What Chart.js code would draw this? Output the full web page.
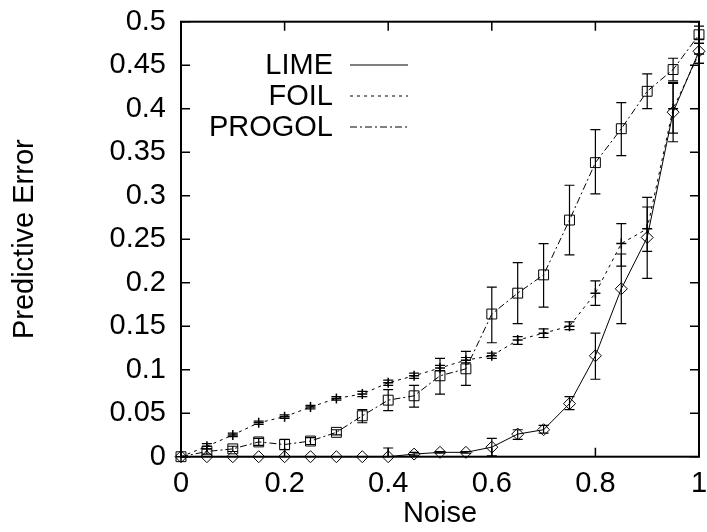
<!DOCTYPE html>
<html>
<head>
<meta charset="utf-8">
<script src="https://cdn.jsdelivr.net/npm/chart.js@4/dist/chart.umd.min.js"></script>
<style>
html,body{margin:0;padding:0;background:#fff;}
#wrap{width:707px;height:532px;}
</style>
</head>
<body>
<div id="wrap"><canvas id="c" width="707" height="532"></canvas></div>
<script>
// ---- data ----
const noise = [0, 0.05, 0.1, 0.15, 0.2, 0.25, 0.3, 0.35, 0.4, 0.45, 0.5, 0.55, 0.6, 0.65, 0.7, 0.75, 0.8, 0.85, 0.9, 0.95, 1];

const limeValues = [0, 0, 0, 0, 0, 0, 0, 0, 0, 0.003, 0.005, 0.005, 0.011, 0.026, 0.031, 0.061, 0.116, 0.193, 0.252, 0.396, 0.466];
const limeLow    = [0, 0, 0, 0, 0, 0, 0, 0, 0, 0.001, 0.004, 0.004, 0.001, 0.020, 0.027, 0.054, 0.089, 0.153, 0.205, 0.362, 0.452];
const limeHigh   = [0, 0, 0, 0, 0, 0, 0, 0, 0.010, 0.005, 0.006, 0.006, 0.021, 0.031, 0.036, 0.069, 0.142, 0.233, 0.298, 0.430, 0.480];

const foilValues = [0, 0.012, 0.025, 0.039, 0.046, 0.057, 0.067, 0.072, 0.085, 0.093, 0.102, 0.111, 0.116, 0.134, 0.142, 0.150, 0.188, 0.245, 0.262, 0.400, 0.463];
const foilLow    = [0, 0.009, 0.023, 0.037, 0.044, 0.055, 0.065, 0.069, 0.082, 0.090, 0.099, 0.108, 0.113, 0.129, 0.137, 0.146, 0.174, 0.219, 0.236, 0.372, 0.452];
const foilHigh   = [0, 0.015, 0.027, 0.041, 0.048, 0.059, 0.069, 0.075, 0.088, 0.096, 0.105, 0.114, 0.119, 0.138, 0.147, 0.155, 0.202, 0.268, 0.287, 0.429, 0.475];

const progolValues = [0, 0.006, 0.009, 0.017, 0.014, 0.018, 0.028, 0.047, 0.065, 0.070, 0.093, 0.101, 0.164, 0.188, 0.209, 0.272, 0.338, 0.377, 0.420, 0.445, 0.485];
const progolLow    = [0, 0.003, 0.006, 0.013, 0.008, 0.014, 0.025, 0.039, 0.053, 0.057, 0.072, 0.082, 0.131, 0.153, 0.172, 0.232, 0.302, 0.346, 0.400, 0.432, 0.475];
const progolHigh   = [0, 0.009, 0.012, 0.021, 0.020, 0.022, 0.031, 0.054, 0.077, 0.082, 0.113, 0.121, 0.195, 0.223, 0.245, 0.312, 0.376, 0.407, 0.440, 0.458, 0.495];

const seriesNames = ['LIME', 'FOIL', 'PROGOL'];
const xTickValues = [0, 0.2, 0.4, 0.6, 0.8, 1];
const yTickValues = [0, 0.05, 0.1, 0.15, 0.2, 0.25, 0.3, 0.35, 0.4, 0.45, 0.5];
const xTitle = 'Noise';
const yTitle = 'Predictive Error';

// ---- styling ----
const FONT = 'Liberation Sans, Arial, Helvetica, sans-serif';
const FS = 29;

function pts(vals, lo, hi) {
  return noise.map((x, i) => ({x: x, y: vals[i], lo: lo[i], hi: hi[i]}));
}

const datasets = [
  {label: seriesNames[0], data: pts(limeValues, limeLow, limeHigh), borderColor: '#000', borderWidth: 1,
   borderDash: [], pointStyle: 'rectRot', pointRadius: 6, pointBorderWidth: 1,
   pointBackgroundColor: 'rgba(0,0,0,0)', pointBorderColor: '#000', clip: false, tension: 0},
  {label: seriesNames[1], data: pts(foilValues, foilLow, foilHigh), borderColor: '#000', borderWidth: 1,
   borderDash: [3, 4], pointStyle: 'cross', pointRadius: 5, pointBorderWidth: 1.5,
   pointBackgroundColor: 'rgba(0,0,0,0)', pointBorderColor: '#000', clip: false, tension: 0},
  {label: seriesNames[2], data: pts(progolValues, progolLow, progolHigh), borderColor: '#000', borderWidth: 1,
   borderDash: [7, 3, 2, 3], pointStyle: 'rect', pointRadius: 7, pointBorderWidth: 1,
   pointBackgroundColor: 'rgba(0,0,0,0)', pointBorderColor: '#000', clip: false, tension: 0}
];

const framePlugin = {
  id: 'frame',
  afterDatasetsDraw(chart) {
    const ctx = chart.ctx;
    const xs = chart.scales.x, ys = chart.scales.y;
    const a = chart.chartArea;
    ctx.save();
    // error bars
    ctx.strokeStyle = '#000';
    ctx.lineWidth = 1.2;
    ctx.setLineDash([]);
    chart.data.datasets.forEach(ds => {
      ds.data.forEach(p => {
        if (p.hi - p.lo <= 0) return;
        const px = xs.getPixelForValue(p.x);
        const y1 = ys.getPixelForValue(Math.max(p.lo, 0));
        const y2 = ys.getPixelForValue(p.hi);
        ctx.beginPath();
        ctx.moveTo(px, y1); ctx.lineTo(px, y2);
        const cw = 5;
        if (p.lo > 0) { ctx.moveTo(px - cw, y1); ctx.lineTo(px + cw, y1); }
        ctx.moveTo(px - cw, y2); ctx.lineTo(px + cw, y2);
        ctx.stroke();
      });
    });
    // border
    ctx.lineWidth = 2;
    ctx.strokeRect(a.left, a.top, a.right - a.left, a.bottom - a.top);
    // inner ticks
    ctx.lineWidth = 1.5;
    const TL = 9;
    ctx.beginPath();
    xTickValues.forEach(v => {
      const px = xs.getPixelForValue(v);
      ctx.moveTo(px, a.bottom); ctx.lineTo(px, a.bottom - TL);
      ctx.moveTo(px, a.top); ctx.lineTo(px, a.top + TL);
    });
    yTickValues.forEach(v => {
      const py = ys.getPixelForValue(v);
      ctx.moveTo(a.left, py); ctx.lineTo(a.left + TL, py);
      ctx.moveTo(a.right, py); ctx.lineTo(a.right - TL, py);
    });
    ctx.stroke();
    // legend
    ctx.font = FS + 'px ' + FONT;
    ctx.fillStyle = '#000';
    ctx.textAlign = 'right';
    ctx.textBaseline = 'middle';
    const rows = [65, 96, 127];
    chart.data.datasets.forEach((ds, i) => {
      ctx.fillText(ds.label, 333, rows[i] + 1);
      ctx.beginPath();
      ctx.lineWidth = 1;
      ctx.setLineDash(ds.borderDash);
      ctx.moveTo(350, rows[i]); ctx.lineTo(408, rows[i]);
      ctx.stroke();
    });
    ctx.restore();
  }
};

new Chart(document.getElementById('c'), {
  type: 'line',
  data: {datasets: datasets},
  options: {
    responsive: false,
    animation: false,
    devicePixelRatio: 1,
    layout: {padding: {top: 21.7, right: 6, left: 0, bottom: 0}},
    plugins: {legend: {display: false}, tooltip: {enabled: false}},
    scales: {
      x: {
        type: 'linear', min: 0, max: 1,
        afterBuildTicks: s => { s.ticks = xTickValues.map(v => ({value: v})); },
        afterFit: s => { s.height = 75.3; s.paddingLeft = 0; s.paddingRight = 0; },
        grid: {display: false, drawTicks: false},
        border: {display: false},
        ticks: {color: '#000', padding: 10, font: {family: FONT, size: FS, lineHeight: 1.2},
                maxRotation: 0, autoSkip: false, callback: v => String(v)},
        title: {display: true, text: xTitle, color: '#000', font: {family: FONT, size: FS, lineHeight: 1.2},
                padding: {top: 0, bottom: 1}}
      },
      y: {
        type: 'linear', min: 0, max: 0.5,
        afterBuildTicks: s => { s.ticks = yTickValues.map(v => ({value: v})); },
        afterFit: s => { s.width = 181; s.paddingTop = 0; s.paddingBottom = 0; },
        grid: {display: false, drawTicks: false},
        border: {display: false},
        ticks: {color: '#000', padding: 15, font: {family: FONT, size: FS, lineHeight: 1.2},
                autoSkip: false, callback: v => String(v)},
        title: {display: true, text: yTitle, color: '#000', font: {family: FONT, size: FS, lineHeight: 1.2},
                padding: {top: 8, bottom: 0}}
      }
    }
  },
  plugins: [framePlugin]
});
</script>
</body>
</html>
